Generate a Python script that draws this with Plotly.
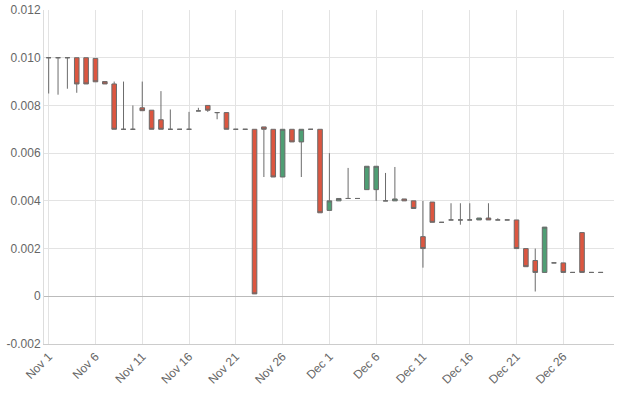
import plotly.graph_objects as go
import pandas as pd

dates = pd.date_range("2017-11-01", "2017-12-30", freq="D").strftime("%Y-%m-%d").tolist()

open_ = [0.0100, 0.0100, 0.0100, 0.0100, 0.0100, 0.00997, 0.0090, 0.0089, 0.0070, 0.0070,
         0.0079, 0.0078, 0.0074, 0.0070, 0.0070, 0.0070, 0.00777, 0.0080, 0.0077, 0.0077,
         0.0070, 0.0070, 0.0070, 0.0071, 0.0070, 0.0050, 0.0070, 0.00647, 0.0070, 0.0070,
         0.0036, 0.0040, 0.0041, 0.0041, 0.00447, 0.00447, 0.0040, 0.0040, 0.00408, 0.0040,
         0.0025, 0.00395, 0.0031, 0.0032, 0.0032, 0.0032, 0.0032, 0.00328, 0.0032, 0.0032,
         0.0032, 0.0020, 0.0015, 0.0010, 0.0014, 0.0014, 0.0010, 0.00267, 0.0010, 0.0010]
high = [0.0100, 0.0100, 0.0100, 0.0100, 0.0100, 0.00997, 0.0090, 0.0090, 0.0090, 0.0080,
        0.0090, 0.0078, 0.0086, 0.00783, 0.0070, 0.00773, 0.0079, 0.0080, 0.0077, 0.0077,
        0.0070, 0.0070, 0.0070, 0.0071, 0.0070, 0.0070, 0.0070, 0.0070, 0.0070, 0.0070,
        0.0060, 0.0041, 0.00538, 0.0041, 0.00545, 0.00545, 0.00517, 0.00542, 0.00408, 0.0040,
        0.0040, 0.00395, 0.0031, 0.0039, 0.0039, 0.0039, 0.00328, 0.0039, 0.00327, 0.0032,
        0.0032, 0.0020, 0.0020, 0.0029, 0.0014, 0.0014, 0.0010, 0.00267, 0.0010, 0.0010]
low = [0.0085, 0.00845, 0.0087, 0.00853, 0.0089, 0.00899, 0.0089, 0.0070, 0.0070, 0.0070,
       0.00778, 0.0070, 0.0070, 0.0070, 0.0070, 0.0070, 0.00777, 0.00773, 0.00742, 0.0070,
       0.0070, 0.0070, 0.0001, 0.0050, 0.0050, 0.0050, 0.00647, 0.0050, 0.0070, 0.0035,
       0.0036, 0.0040, 0.0041, 0.0041, 0.00447, 0.0040, 0.0040, 0.0040, 0.0040, 0.00368,
       0.0012, 0.0031, 0.0031, 0.0032, 0.0030, 0.0032, 0.0032, 0.0032, 0.0032, 0.0032,
       0.0020, 0.00124, 0.0002, 0.0010, 0.0014, 0.0010, 0.0010, 0.0010, 0.0010, 0.0010]
close = [0.0100, 0.0100, 0.0100, 0.0089, 0.0089, 0.00899, 0.0089, 0.0070, 0.0070, 0.0070,
         0.00778, 0.0070, 0.0070, 0.0070, 0.0070, 0.0070, 0.00777, 0.0078, 0.0077, 0.0070,
         0.0070, 0.0070, 0.0001, 0.0070, 0.0050, 0.0070, 0.00647, 0.0070, 0.0070, 0.0035,
         0.0040, 0.0041, 0.0041, 0.0041, 0.00545, 0.00545, 0.0040, 0.00408, 0.0040, 0.00368,
         0.0020, 0.0031, 0.0031, 0.0032, 0.0032, 0.0032, 0.00328, 0.0032, 0.0032, 0.0032,
         0.0020, 0.00124, 0.0010, 0.0029, 0.0014, 0.0010, 0.0010, 0.0010, 0.0010, 0.0010]

x_tick_dates = ["2017-11-01", "2017-11-06", "2017-11-11", "2017-11-16", "2017-11-21", "2017-11-26",
                "2017-12-01", "2017-12-06", "2017-12-11", "2017-12-16", "2017-12-21", "2017-12-26"]
x_tick_labels = ["Nov 1", "Nov 6", "Nov 11", "Nov 16", "Nov 21", "Nov 26",
                 "Dec 1", "Dec 6", "Dec 11", "Dec 16", "Dec 21", "Dec 26"]
y_ticks = [-0.002, 0.0, 0.002, 0.004, 0.006, 0.008, 0.010, 0.012]
y_tick_labels = ["-0.002", "0", "0.002", "0.004", "0.006", "0.008", "0.010", "0.012"]

fig = go.Figure(go.Candlestick(
    x=dates, open=open_, high=high, low=low, close=close,
    increasing=dict(fillcolor="#4f9e74", line=dict(color="#6b6b6b", width=1)),
    decreasing=dict(fillcolor="#dc5640", line=dict(color="#6b6b6b", width=1)),
    whiskerwidth=0,
))

font = dict(family="Liberation Sans, Arial, sans-serif", size=12, color="#666666")
fig.update_layout(
    width=619, height=393,
    margin=dict(l=44, r=5, t=10, b=49),
    paper_bgcolor="white", plot_bgcolor="white",
    showlegend=False,
    font=font,
    xaxis=dict(
        rangeslider=dict(visible=False),
        range=["2017-10-31 12:00", "2017-12-31 10:00"],
        tickvals=x_tick_dates, ticktext=x_tick_labels, tickangle=-45,
        showgrid=True, gridcolor="#e3e3e3", gridwidth=1,
        showline=True, linecolor="#cccccc",
        ticks="", automargin=False, tickfont=font,
    ),
    yaxis=dict(
        range=[-0.002, 0.012],
        tickvals=y_ticks, ticktext=y_tick_labels,
        showgrid=True, gridcolor="#e3e3e3", gridwidth=1,
        zeroline=True, zerolinecolor="#bbbbbb", zerolinewidth=1,
        showline=True, linecolor="#dddddd",
        ticks="", automargin=False, tickfont=font,
        ticklabeloverflow="allow",
    ),
)

fig.write_html("out.html", config={"displayModeBar": False},
               post_script="document.body.style.margin='0';")
